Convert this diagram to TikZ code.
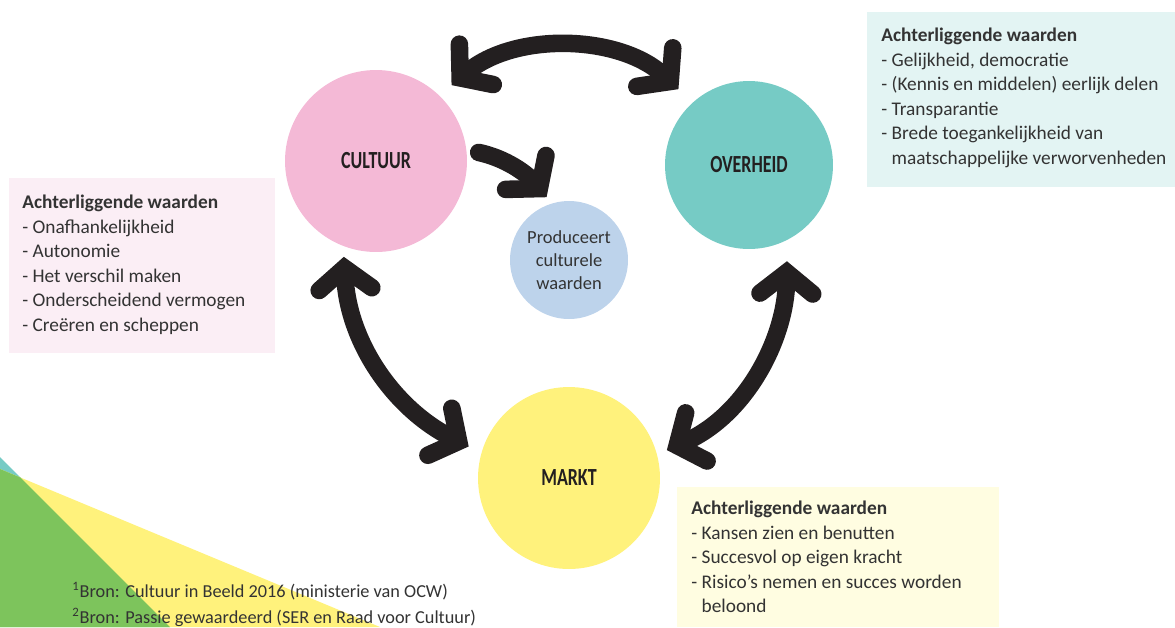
\documentclass[tikz,border=0pt]{standalone}
\usepackage{fontspec}
\setmainfont{Carlito}
\usepackage{xcolor}
\usepackage{graphicx}
\usepackage{tikz}
\usetikzlibrary{arrows.meta}
\definecolor{roze}{HTML}{F4B9D6}
\definecolor{turkoois}{HTML}{76CBC5}
\definecolor{geel}{HTML}{FFF27C}
\definecolor{lichtblauw}{HTML}{BDD3EB}
\definecolor{rozevak}{HTML}{FBEEF5}
\definecolor{turkooisvak}{HTML}{E3F4F3}
\definecolor{geelvak}{HTML}{FFFDE1}
\definecolor{groen}{HTML}{7DC45C}
\definecolor{zwart}{HTML}{231F20}
\definecolor{tekst}{HTML}{333333}
\newcommand{\kaplabel}[1]{\scalebox{0.73}[1]{#1}}

\begin{document}
\begin{tikzpicture}[x=0.02cm,y=0.02cm,
		cirkel/.style={circle,inner sep=0pt,text=zwart,font=\fontsize{14}{16}\selectfont\bfseries},
		vak/.style={anchor=north west,inner sep=0pt,align=left,text=tekst,font=\fontsize{11}{13.9}\selectfont},
		voet/.style={anchor=base west,inner sep=0pt,text=tekst,font=\fontsize{10.4}{13}\selectfont},
		pijl/.style={line width=10pt,draw=zwart,line cap=round},
		punt/.tip={Straight Barb[length=12pt,width=30pt,line cap=round,line join=miter]}]
			\useasboundingbox (0,0) rectangle (1175,-627);
			% Achtergrond
			\fill[turkoois] (0,-457) -- (170,-627) -- (0,-627) -- cycle;
			\fill[geel] (0,-469) -- (380,-627) -- (0,-627) -- cycle;
			\fill[groen] (0,-469) -- (20.6,-477.6) -- (170,-627) -- (0,-627) -- cycle;
			% Vakken
			\fill[rozevak] (9,-178) rectangle (275,-353);
			\fill[turkooisvak] (867,-12) rectangle (1175,-187);
			\fill[geelvak] (677,-487) rectangle (999,-627);
			\node[vak] (cultwaarden) at (22,-195) {\textbf{Achterliggende waarden}\\- Onafhankelijkheid\\- Autonomie\\- Het verschil maken\\- Onderscheidend vermogen\\- Creëren en scheppen};
			\node[vak] (overwaarden) at (881,-28) {\textbf{Achterliggende waarden}\\- Gelijkheid, democratie\\- (Kennis en middelen) eerlijk delen\\- Transparantie\\- Brede toegankelijkheid van\\\hphantom{- }maatschappelijke verworvenheden};
			\node[vak] (marktwaarden) at (691,-501) {\textbf{Achterliggende waarden}\\- Kansen zien en benutten\\- Succesvol op eigen kracht\\- Risico’s nemen en succes worden\\\hphantom{- }beloond};
			% Cirkels
			\node[cirkel,fill=roze,minimum size=3.64cm] (cult) at (376,-161) {\kaplabel{CULTUUR}};
			\node[cirkel,fill=turkoois,minimum size=3.36cm] (over) at (749,-165) {\kaplabel{OVERHEID}};
			\node[cirkel,fill=geel,minimum size=3.64cm] (markt) at (569,-478) {\kaplabel{MARKT}};
			\node[cirkel,fill=lichtblauw,minimum size=2.36cm,align=center,text=tekst,font=\fontsize{10.5}{13}\selectfont] (prod) at (569,-260) {Produceert\\culturele\\waarden};
			% Pijlen
			\draw[pijl,punt-punt,shorten <=9pt,shorten >=11pt] (cult.46) to[out=40,in=137] (over.132);
			\draw[pijl,punt-punt,shorten <=6pt,shorten >=8pt] (cult.249) to[out=-87,in=153] (markt.164);
			\draw[pijl,punt-punt,shorten <=12pt,shorten >=6pt] (over.297) to[out=-91,in=24] (markt.15);
			\draw[pijl,-punt,shorten <=7pt,shorten >=4.5pt] (cult.7) to[out=-12,in=130] (prod.107);
			% Bronnen
			\node[voet] (bron1) at (72,-597) {\textsuperscript{1}Bron: Cultuur in Beeld 2016 (ministerie van OCW)};
			\node[voet] (bron2) at (72,-623) {\textsuperscript{2}Bron: Passie gewaardeerd (SER en Raad voor Cultuur)};
		\end{tikzpicture}
\end{document}
